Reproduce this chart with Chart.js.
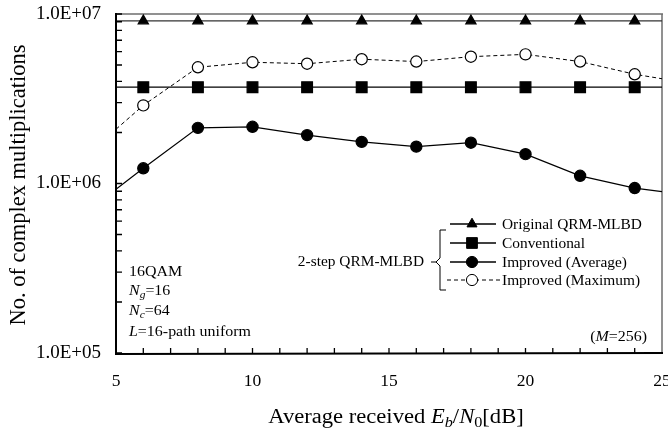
<!DOCTYPE html>
<html>
<head>
<meta charset="utf-8">
<script src="https://cdn.jsdelivr.net/npm/chart.js@4.4.0/dist/chart.umd.min.js"></script>
<style>
  html, body { margin: 0; padding: 0; background: #fff; }
</style>
</head>
<body>
<canvas id="chart" width="668" height="431"></canvas>
<script>
// Eb/N0 values (dB); end points 5 and 25 only carry the line to the frame
var snr = [5, 6, 8, 10, 12, 14, 16, 18, 20, 22, 24, 25];
var original     = [9.1e6, 9.1e6, 9.1e6, 9.1e6, 9.1e6, 9.1e6, 9.1e6, 9.1e6, 9.1e6, 9.1e6, 9.1e6, 9.1e6];
var conventional = [3.7e6, 3.7e6, 3.7e6, 3.7e6, 3.7e6, 3.7e6, 3.7e6, 3.7e6, 3.7e6, 3.7e6, 3.7e6, 3.7e6];
var improvedAvg  = [0.925e6, 1.23e6, 2.13e6, 2.16e6, 1.93e6, 1.76e6, 1.65e6, 1.74e6, 1.49e6, 1.11e6, 0.94e6, 0.895e6];
var improvedMax  = [2.09e6, 2.89e6, 4.85e6, 5.19e6, 5.09e6, 5.41e6, 5.24e6, 5.6e6, 5.78e6, 5.24e6, 4.41e6, 4.15e6];
var yTicks = [1e5, 1e6, 1e7];
var xTicks = [5, 10, 15, 20, 25];
var legendLabels = ["Original QRM-MLBD", "Conventional", "Improved (Average)", "Improved (Maximum)"];

var SERIF = "'Liberation Serif', 'Times New Roman', serif";
var SX = 1.1; // the figure's text is a little wide

function pts(vals) {
  return snr.map(function (x, i) { return { x: x, y: vals[i] }; });
}
function radius(r) {
  return function (c) {
    var x = snr[c.dataIndex];
    return (x === 5 || x === 25) ? 0 : r;
  };
}

function marker(ctx, style, x, y, r, filled) {
  ctx.beginPath();
  if (style === 'triangle') {
    ctx.moveTo(x, y - r);
    ctx.lineTo(x + r * 0.866, y + r * 0.5);
    ctx.lineTo(x - r * 0.866, y + r * 0.5);
    ctx.closePath();
  } else if (style === 'rect') {
    var s = r * Math.SQRT1_2;
    ctx.rect(x - s, y - s, 2 * s, 2 * s);
  } else {
    ctx.arc(x, y, r, 0, Math.PI * 2);
  }
  ctx.fillStyle = filled ? '#000' : '#fff';
  ctx.fill();
  ctx.strokeStyle = '#000';
  ctx.lineWidth = 1;
  ctx.stroke();
}

function rich(ctx, parts, x, y, size, align, sx) {
  var w = 0;
  parts.forEach(function (p) {
    p.fs = p.s ? size * 0.72 : size;
    ctx.font = (p.i ? 'italic ' : '') + p.fs + 'px ' + SERIF;
    p.w = ctx.measureText(p.t).width;
    w += p.w;
  });
  var cx = align === 'right' ? -w : (align === 'center' ? -w / 2 : 0);
  ctx.save();
  ctx.translate(x, y);
  ctx.scale(sx, 1);
  ctx.fillStyle = '#000';
  ctx.textBaseline = 'alphabetic';
  ctx.textAlign = 'left';
  parts.forEach(function (p) {
    ctx.font = (p.i ? 'italic ' : '') + p.fs + 'px ' + SERIF;
    ctx.fillText(p.t, cx, p.s ? size * 0.22 : 0);
    cx += p.w;
  });
  ctx.restore();
}

var framePlugin = {
  id: 'frame',
  beforeDatasetsDraw: function (chart) {
    var ctx = chart.ctx, a = chart.chartArea;
    ctx.save();
    ctx.strokeStyle = '#6e6e6e';
    ctx.lineWidth = 1.5;
    ctx.beginPath();
    ctx.moveTo(a.left, a.top); ctx.lineTo(a.right + 1, a.top);
    ctx.moveTo(a.right, a.top); ctx.lineTo(a.right, a.bottom);
    ctx.stroke();
    ctx.restore();
  },
  afterDatasetsDraw: function (chart) {
    var ctx = chart.ctx, a = chart.chartArea;
    var xs = chart.scales.x, ys = chart.scales.y;
    ctx.save();
    ctx.strokeStyle = '#000';
    ctx.lineWidth = 2;
    ctx.beginPath();
    ctx.moveTo(a.left, a.top - 1); ctx.lineTo(a.left, a.bottom + 1);
    ctx.lineTo(a.right + 1, a.bottom);
    ctx.stroke();

    // inward tick marks
    ctx.lineWidth = 1.3;
    ctx.beginPath();
    [1e5, 1e6].forEach(function (dec) {
      for (var m = 1; m <= 10; m++) {
        var py = ys.getPixelForValue(dec * m);
        ctx.moveTo(a.left, py); ctx.lineTo(a.left + 6, py);
      }
    });
    for (var v = 6; v <= 24; v++) {
      var px = xs.getPixelForValue(v);
      ctx.moveTo(px, a.bottom); ctx.lineTo(px, a.bottom - 5);
    }
    ctx.stroke();

    // legend
    var lx0 = 450, lx1 = 496, mx = 472;
    var rows = [224, 243, 262, 280];
    var styles = ['triangle', 'rect', 'circle', 'circle'];
    var radii = [5.8, 7.6, 5.6, 5.6];
    ctx.lineWidth = 1;
    rows.forEach(function (ry, i) {
      ctx.beginPath();
      ctx.setLineDash(i === 3 ? [4, 3] : []);
      ctx.moveTo(i === 3 ? 447 : lx0, ry);
      ctx.lineTo(i === 3 ? 501 : lx1, ry);
      ctx.strokeStyle = '#000';
      ctx.lineWidth = i === 3 ? 1 : 1.6;
      ctx.stroke();
      ctx.setLineDash([]);
      marker(ctx, styles[i], mx, ry, radii[i], i !== 3);
      rich(ctx, [{ t: legendLabels[i] }], 502, ry + 5, 14, 'left', SX);
    });

    // bracket
    ctx.beginPath();
    ctx.lineWidth = 1;
    ctx.strokeStyle = '#000';
    ctx.moveTo(446, 230); ctx.lineTo(440, 230); ctx.lineTo(440, 258);
    ctx.lineTo(436, 262); ctx.lineTo(440, 266); ctx.lineTo(440, 290); ctx.lineTo(446, 290);
    ctx.moveTo(431, 262); ctx.lineTo(436, 262);
    ctx.stroke();
    rich(ctx, [{ t: '2-step QRM-MLBD' }], 424, 266, 14, 'right', SX);

    // parameters
    rich(ctx, [{ t: '16QAM' }], 129, 276, 14.5, 'left', SX);
    rich(ctx, [{ t: 'N', i: 1 }, { t: 'g', i: 1, s: 1 }, { t: '=16' }], 129, 295, 14.5, 'left', SX);
    rich(ctx, [{ t: 'N', i: 1 }, { t: 'c', i: 1, s: 1 }, { t: '=64' }], 129, 314.5, 14.5, 'left', SX);
    rich(ctx, [{ t: 'L', i: 1 }, { t: '=16-path uniform' }], 129, 336, 14.5, 'left', SX);
    rich(ctx, [{ t: '(' }, { t: 'M', i: 1 }, { t: '=256)' }], 647, 341, 14.5, 'right', SX);

    // axis titles
    rich(ctx, [{ t: 'Average received ' }, { t: 'E', i: 1 }, { t: 'b', i: 1, s: 1 },
               { t: '/' }, { t: 'N', i: 1 }, { t: '0', s: 1 }, { t: '[dB]' }],
         396, 423, 20, 'center', 1.13);
    ctx.save();
    ctx.translate(25, 185);
    ctx.rotate(-Math.PI / 2);
    rich(ctx, [{ t: 'No. of complex multiplications' }], 0, 0, 22.5, 'center', 1);
    ctx.restore();
    ctx.restore();
  }
};

var ctx = document.getElementById('chart').getContext('2d');
new Chart(ctx, {
  type: 'line',
  data: {
    datasets: [
      { label: legendLabels[0], data: pts(original), borderColor: '#333', borderWidth: 1.3,
        pointStyle: 'triangle', pointRadius: radius(5.8), pointBackgroundColor: '#000', pointBorderColor: '#000' },
      { label: legendLabels[1], data: pts(conventional), borderColor: '#000', borderWidth: 1.2,
        pointStyle: 'rect', pointRadius: radius(7.6), pointBackgroundColor: '#000', pointBorderColor: '#000' },
      { label: legendLabels[2], data: pts(improvedAvg), borderColor: '#000', borderWidth: 1.2,
        pointStyle: 'circle', pointRadius: radius(5.6), pointBackgroundColor: '#000', pointBorderColor: '#000' },
      { label: legendLabels[3], data: pts(improvedMax), borderColor: '#000', borderWidth: 1, borderDash: [4, 3],
        pointStyle: 'circle', pointRadius: radius(5.6), pointBackgroundColor: '#fff', pointBorderColor: '#000', pointBorderWidth: 1.2 }
    ]
  },
  options: {
    responsive: false,
    animation: false,
    events: [],
    layout: { padding: { top: 14, right: 6, left: 0, bottom: 0 } },
    plugins: { legend: { display: false }, tooltip: { enabled: false } },
    elements: { line: { tension: 0 } },
    scales: {
      x: {
        type: 'linear', min: 5, max: 25,
        afterBuildTicks: function (s) { s.ticks = xTicks.map(function (v) { return { value: v }; }); },
        afterFit: function (s) { s.height = 78; s.paddingLeft = 0; s.paddingRight = 0; },
        grid: { display: false, drawTicks: false },
        border: { display: false },
        ticks: { color: '#000', padding: 18, maxRotation: 0, font: { family: SERIF, size: 17.5 } }
      },
      y: {
        type: 'logarithmic', min: 1e5, max: 1e7,
        afterBuildTicks: function (s) { s.ticks = yTicks.map(function (v) { return { value: v }; }); },
        afterFit: function (s) { s.width = 116; s.paddingTop = 0; s.paddingBottom = 0; },
        grid: { display: false, drawTicks: false },
        border: { display: false },
        ticks: {
          color: '#000', padding: 15, font: { family: SERIF, size: 19 },
          callback: function (v) { return Number(v).toExponential(1).toUpperCase().replace('E+', 'E+0'); }
        }
      }
    }
  },
  plugins: [framePlugin]
});
</script>
</body>
</html>
